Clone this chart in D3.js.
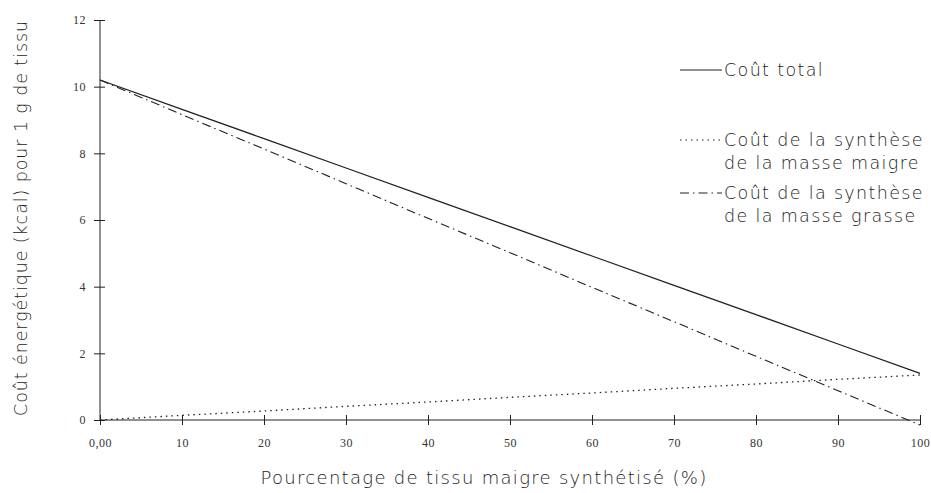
<!DOCTYPE html>
<html>
<head>
<meta charset="utf-8">
<script src="https://cdn.jsdelivr.net/npm/d3@7"></script>
<style>
	body { margin: 0; background: #ffffff; }
	.tick text { font-family: "Liberation Serif", "DejaVu Serif", serif; font-size: 12px; fill: #333; letter-spacing: 0.5px; }
	.title { font-family: "DejaVu Sans", sans-serif; font-weight: 200; fill: #222; }
	.legend { font-family: "DejaVu Sans", sans-serif; font-weight: 200; font-size: 17.5px; letter-spacing: 1.35px; fill: #222; }
</style>
</head>
<body>
<script>
// pourcentage de tissu maigre synthétisé
var pourcentages = [0, 10, 20, 30, 40, 50, 60, 70, 80, 90, 100];
// coûts (kcal / g)
var coutTotal  = [10.2, 9.32, 8.44, 7.56, 6.68, 5.8, 4.92, 4.04, 3.16, 2.28, 1.4];
var coutMaigre = [0, 0.14, 0.27, 0.41, 0.54, 0.68, 0.81, 0.95, 1.08, 1.22, 1.35];
var coutGras   = [10.2, 9.16, 8.13, 7.09, 6.05, 5.02, 3.98, 2.95, 1.91, 0.88, -0.15];
var yTicks = [0, 2, 4, 6, 8, 10, 12];
var xTicks = [0, 10, 20, 30, 40, 50, 60, 70, 80, 90, 100];
var legendLabels = [
	["Coût total"],
	["Coût de la synthèse", "de la masse maigre"],
	["Coût de la synthèse", "de la masse grasse"]
];

var width = 931, height = 493;
var svg = d3.select("body").append("svg").attr("width", width).attr("height", height);

var x = d3.scaleLinear().domain([0, 100]).range([100, 920]);
var y = d3.scaleLinear().domain([0, 12]).range([420, 20]);

var styles = [
	{ dash: null, width: 1.3 },
	{ dash: "1.5,4", width: 1.3 },
	{ dash: "9,4,1.5,4", width: 1.1 }
];
var series = [coutTotal, coutMaigre, coutGras];

// axes
var yAxis = svg.append("g")
	.attr("transform", "translate(" + x(0) + ",0)")
	.call(d3.axisLeft(y).tickValues(yTicks).tickSize(6).tickPadding(8));
yAxis.selectAll(".tick line").attr("x1", 5).attr("stroke", "#222");
yAxis.select(".domain").attr("stroke", "#222").attr("d", "M0," + y(12) + "V" + y(0));

var xAxis = svg.append("g")
	.attr("transform", "translate(0," + y(0) + ")")
	.call(d3.axisBottom(x).tickValues(xTicks).tickSize(5).tickPadding(13)
		.tickFormat(function(d) { return d === 0 ? "0,00" : d; }));
xAxis.selectAll(".tick line").attr("y1", -5).attr("stroke", "#222");
xAxis.select(".domain").attr("stroke", "#222").attr("d", "M" + x(0) + ",0H" + x(100));

// lignes
var line = d3.line()
	.x(function(d, i) { return x(pourcentages[i]); })
	.y(function(d) { return y(d); });

series.forEach(function(s, i) {
	svg.append("path")
		.datum(s)
		.attr("fill", "none")
		.attr("stroke", "#222")
		.attr("stroke-width", styles[i].width)
		.attr("stroke-dasharray", styles[i].dash)
		.attr("d", line);
});

// titres des axes
svg.append("text")
	.attr("class", "title")
	.attr("x", 484).attr("y", 484)
	.attr("text-anchor", "middle")
	.style("font-size", "18px")
	.style("letter-spacing", "1.3px")
	.text("Pourcentage de tissu maigre synthétisé (%)");

svg.append("text")
	.attr("class", "title")
	.attr("transform", "translate(27,218) rotate(-90)")
	.attr("text-anchor", "middle")
	.style("font-size", "17.5px")
	.style("letter-spacing", "0.9px")
	.text("Coût énergétique (kcal) pour 1 g de tissu");

// légende
var legendY = [70, 140, 193];
legendLabels.forEach(function(lab, i) {
	var g = svg.append("g").attr("transform", "translate(680," + legendY[i] + ")");
	g.append("line")
		.attr("x1", 0).attr("x2", 42)
		.attr("y1", 0).attr("y2", 0)
		.attr("stroke", "#222")
		.attr("stroke-width", 1.1)
		.attr("stroke-dasharray", styles[i].dash);
	lab.forEach(function(t, j) {
		g.append("text")
			.attr("class", "legend")
			.attr("x", 44).attr("y", 6 + j * 23)
			.text(t);
	});
});
</script>
</body>
</html>
